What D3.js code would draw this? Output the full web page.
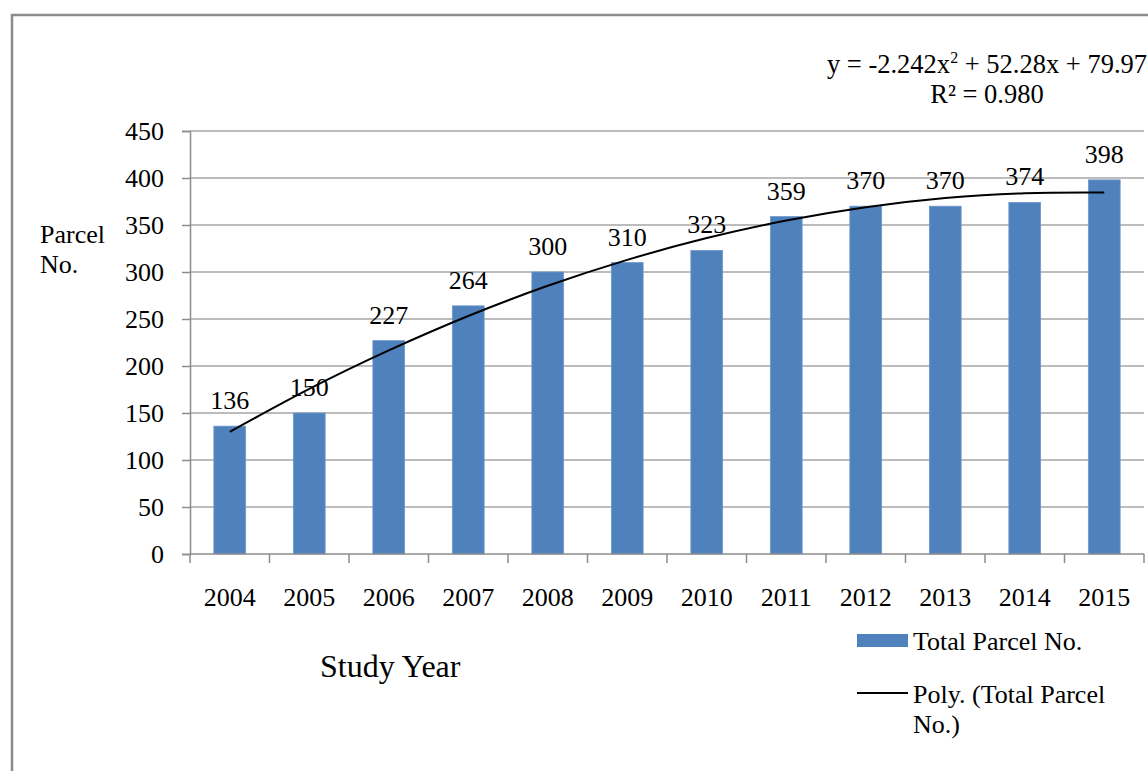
<!DOCTYPE html>
<html>
<head>
<meta charset="utf-8">
<script src="https://cdn.jsdelivr.net/npm/d3@7"></script>
<style>
  body { margin: 0; background: #fff; }
  svg { display: block; font-family: "Liberation Serif", "DejaVu Serif", serif; }
  svg text { font-family: "Liberation Serif", "DejaVu Serif", serif !important; fill: #000; }
</style>
</head>
<body>
<svg id="chart" width="1148" height="771"></svg>
<script>
// ---- data ----
const years = ["2004","2005","2006","2007","2008","2009","2010","2011","2012","2013","2014","2015"];
const parcels = [136, 150, 227, 264, 300, 310, 323, 359, 370, 370, 374, 398];
// polynomial trendline values read at each year
const trendValues = [130, 175.6, 216.6, 253.2, 285.3, 312.9, 336.1, 354.7, 368.9, 378.6, 383.8, 384.5];
const yTicks = [0, 50, 100, 150, 200, 250, 300, 350, 400, 450];
const seriesName = "Total Parcel No.";
const trendName = ["Poly. (Total Parcel", "No.)"];
const yTitle = ["Parcel", "No."];
const xTitle = "Study Year";

const FONT = "Liberation Serif";
const svg = d3.select("#chart");
const m = { left: 190, right: 1144, top: 131, bottom: 554 };
const barColor = "#4F81BD";
const gridColor = "#A6A6A6";

function txt(sel) { return sel.style("font-family", FONT).attr("fill", "#000"); }

// outer frame
svg.append("rect").attr("x", 12).attr("y", 15).attr("width", 1160).attr("height", 800)
  .attr("fill", "none").attr("stroke", "#8C8C8C").attr("stroke-width", 2.5);

const x = d3.scaleBand().domain(years).range([m.left, m.right]).paddingInner(0.6).paddingOuter(0.3);
const y = d3.scaleLinear().domain([0, 450]).range([m.bottom, m.top]);

// gridlines
svg.append("g").selectAll("line").data(yTicks.filter(d => d > 0)).join("line")
  .attr("x1", m.left).attr("x2", m.right)
  .attr("y1", d => y(d)).attr("y2", d => y(d))
  .attr("stroke", gridColor).attr("stroke-width", 1.5);

// bars
svg.append("g").selectAll("rect").data(parcels).join("rect")
  .attr("x", (d, i) => x(years[i]))
  .attr("width", x.bandwidth())
  .attr("y", d => y(d))
  .attr("height", d => y(0) - y(d))
  .attr("fill", barColor)
  .attr("stroke", "#6F99CC").attr("stroke-width", 0.8);

// y axis
const yAxis = d3.axisLeft(y).tickValues(yTicks).tickSize(8).tickPadding(18);
const gy = svg.append("g").attr("transform", `translate(${m.left},0)`).call(yAxis)
  .attr("font-family", FONT).attr("font-size", 26);
gy.select(".domain").attr("stroke", "#8C8C8C").attr("stroke-width", 1.5);
gy.selectAll(".tick line").attr("stroke", "#8C8C8C").attr("stroke-width", 1.5);
txt(gy.selectAll(".tick text")).attr("font-size", 26);

// x axis (ticks at category boundaries)
const xb = d3.scaleLinear().domain([0, years.length]).range([m.left, m.right]);
const gx = svg.append("g");
gx.append("line").attr("x1", m.left).attr("x2", m.right).attr("y1", m.bottom).attr("y2", m.bottom)
  .attr("stroke", "#8C8C8C").attr("stroke-width", 1.5);
gx.selectAll("line.tk").data(d3.range(years.length + 1)).join("line").attr("class", "tk")
  .attr("x1", d => xb(d)).attr("x2", d => xb(d))
  .attr("y1", m.bottom).attr("y2", m.bottom + 9)
  .attr("stroke", "#8C8C8C").attr("stroke-width", 1.5);
txt(gx.selectAll("text").data(years).join("text")
  .attr("x", d => x(d) + x.bandwidth() / 2)
  .attr("y", 606)
  .attr("text-anchor", "middle").attr("font-size", 26)
  .text(d => d));

// data labels
txt(svg.append("g").selectAll("text").data(parcels).join("text")
  .attr("x", (d, i) => x(years[i]) + x.bandwidth() / 2)
  .attr("y", d => y(d) - 17)
  .attr("text-anchor", "middle").attr("font-size", 26)
  .text(d => d));

// trendline
const line = d3.line()
  .x((d, i) => x(years[i]) + x.bandwidth() / 2)
  .y(d => y(d))
  .curve(d3.curveNatural);
svg.append("path").datum(trendValues).attr("d", line)
  .attr("fill", "none").attr("stroke", "#000").attr("stroke-width", 2);

// equation
const eq = txt(svg.append("text").attr("x", 987).attr("y", 73).attr("text-anchor", "middle").attr("font-size", 26.5));
eq.append("tspan").text("y = -2.242x");
eq.append("tspan").attr("font-size", 16).attr("dy", -10).text("2");
eq.append("tspan").attr("dy", 10).text(" + 52.28x + 79.97");
txt(svg.append("text").attr("x", 987).attr("y", 103).attr("text-anchor", "middle").attr("font-size", 26.5)
  .text("R² = 0.980"));

// axis titles
txt(svg.append("text").attr("x", 40).attr("y", 243).attr("font-size", 26).text(yTitle[0]));
txt(svg.append("text").attr("x", 40).attr("y", 273).attr("font-size", 26).text(yTitle[1]));
txt(svg.append("text").attr("x", 320).attr("y", 677).attr("font-size", 32).text(xTitle));

// legend
svg.append("rect").attr("x", 857).attr("y", 634).attr("width", 51).attr("height", 13).attr("fill", barColor);
txt(svg.append("text").attr("x", 913).attr("y", 650).attr("font-size", 26).text(seriesName));
svg.append("line").attr("x1", 857).attr("x2", 908).attr("y1", 693).attr("y2", 693)
  .attr("stroke", "#000").attr("stroke-width", 2);
txt(svg.append("text").attr("x", 913).attr("y", 703).attr("font-size", 26).text(trendName[0]));
txt(svg.append("text").attr("x", 913).attr("y", 733).attr("font-size", 26).text(trendName[1]));
</script>
</body>
</html>
